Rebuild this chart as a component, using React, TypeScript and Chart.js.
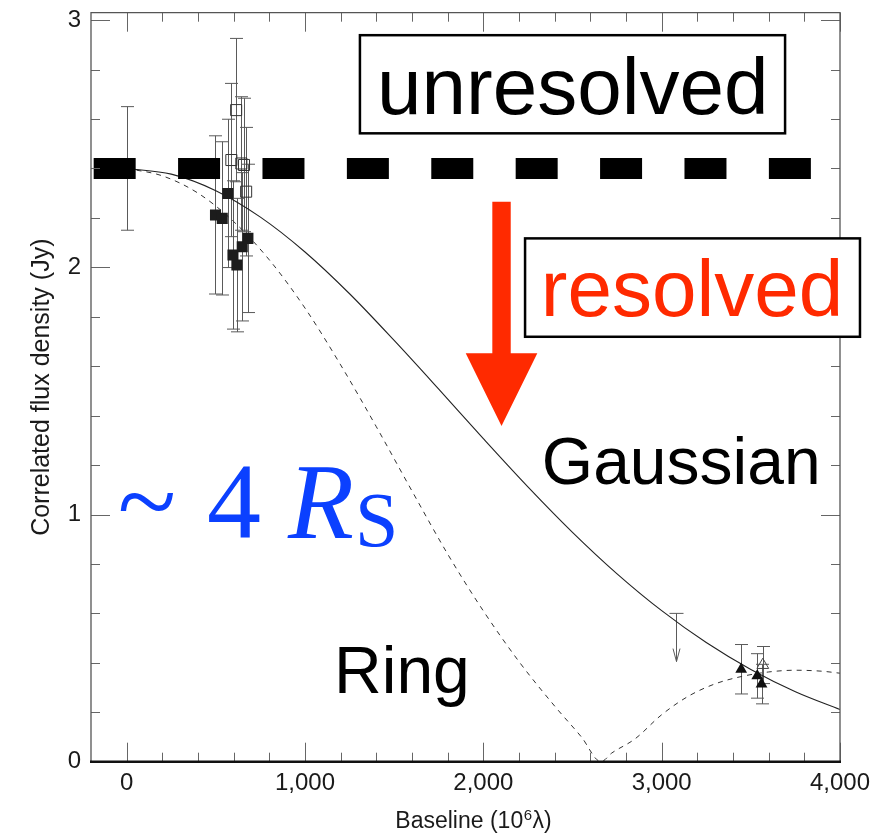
import React, { useEffect, useRef } from 'react';
import { Chart, registerables } from 'chart.js';

Chart.register(...registerables);

// ---------- data ----------
const xTickValues = [0, 1000, 2000, 3000, 4000];
const yTickValues = [0, 1, 2, 3];

const unresolvedX = [-185, 3845];
const unresolvedY = [2.4, 2.4];

const gaussX = [0, 250, 500, 750, 1000, 1250, 1500, 1750, 2000, 2250, 2500, 2750, 3000, 3250, 3500, 3750, 4000];
const gaussY = [2.4, 2.377, 2.31, 2.203, 2.062, 1.893, 1.704, 1.507, 1.307, 1.112, 0.928, 0.76, 0.611, 0.482, 0.373, 0.283, 0.211];

const ringX = [0, 200, 400, 600, 800, 1000, 1200, 1400, 1600, 1800, 2000, 2200, 2400, 2550, 2660, 2720, 2850, 3000, 3150, 3300, 3450, 3600, 3750, 3900, 4000];
const ringY = [2.4, 2.37, 2.3, 2.185, 2.03, 1.835, 1.605, 1.355, 1.095, 0.84, 0.61, 0.405, 0.225, 0.1, 0.0, 0.035, 0.092, 0.19, 0.265, 0.315, 0.345, 0.363, 0.37, 0.366, 0.358];

const filledSqX = [0, 498, 536, 567, 596, 618, 648, 680];
const filledSqY = [2.4, 2.212, 2.198, 2.299, 2.05, 2.009, 2.083, 2.117];
const filledSqErr = [0.25, 0.32, 0.31, 0.3, 0.3, 0.27, 0.3, 0.3];

const openSqX = [614, 587, 643, 658, 670];
const openSqY = [2.636, 2.434, 2.42, 2.414, 2.306];
const openSqErr = [0.29, 0.31, 0.27, 0.27, 0.26];

const filledTriX = [3446, 3536, 3560];
const filledTriY = [0.374, 0.347, 0.314];
const filledTriErr = [0.1, 0.09, 0.08];

const openTriX = [3567];
const openTriY = [0.391];
const openTriErr = [0.075];

const limitX = [3082];
const limitTop = [0.6];
const limitTip = [0.405];

// ---------- text ----------
const xTitleMain = 'Baseline (10';
const xTitleSup = '6';
const xTitleEnd = 'λ)';
const yTitle = 'Correlated flux density (Jy)';

// ---------- annotation anchors (data units) ----------
const ANN = {
  unresolvedBox: [1308, 2.939, 3692, 2.542],
  unresolvedText: [1404, 2.619],
  resolvedBox: [2234, 2.117, 4112, 1.719],
  resolvedText: [2322, 1.803],
  arrow: { x: 2102, top: 2.265, headTop: 1.652, tip: 1.358 },
  gaussianText: [2328, 1.123],
  ringText: [1163, 0.277],
  tilde: [-50, 0.905],
  four: [450, 0.905],
  R: [905, 0.905],
  S: [1280, 0.872],
};

const pts = (xs: number[], ys: number[]) => xs.map((x, i) => ({ x, y: ys[i] }));

const fmt = (v: number) => Number(v).toLocaleString('en-US');

const SANS = '"Liberation Sans", Arial, sans-serif';
const SERIF = '"Liberation Serif", "Times New Roman", serif';

const decorPlugin = {
  id: 'decor',
  beforeDatasetsDraw(chart: any) {
    const ctx = chart.ctx;
    const sx = chart.scales.x;
    const sy = chart.scales.y;
    ctx.save();
    ctx.strokeStyle = '#5a5a5a';
    ctx.lineWidth = 1;
    const cap = 6.5;
    const bars = (xs: number[], ys: number[], es: number[]) => {
      xs.forEach((xv, i) => {
        const px = Math.round(sx.getPixelForValue(xv)) + 0.5;
        const t = sy.getPixelForValue(ys[i] + es[i]);
        const b = sy.getPixelForValue(ys[i] - es[i]);
        ctx.beginPath();
        ctx.moveTo(px, t);
        ctx.lineTo(px, b);
        ctx.moveTo(px - cap, t);
        ctx.lineTo(px + cap, t);
        ctx.moveTo(px - cap, b);
        ctx.lineTo(px + cap, b);
        ctx.stroke();
      });
    };
    bars(filledSqX, filledSqY, filledSqErr);
    bars(openSqX, openSqY, openSqErr);
    bars(filledTriX, filledTriY, filledTriErr);
    bars(openTriX, openTriY, openTriErr);
    // upper limit arrow
    limitX.forEach((xv, i) => {
      const px = Math.round(sx.getPixelForValue(xv)) + 0.5;
      const t = sy.getPixelForValue(limitTop[i]);
      const b = sy.getPixelForValue(limitTip[i]);
      ctx.beginPath();
      ctx.moveTo(px, t);
      ctx.lineTo(px, b);
      ctx.moveTo(px - 7, t);
      ctx.lineTo(px + 7, t);
      ctx.moveTo(px - 3.5, b - 13);
      ctx.lineTo(px, b);
      ctx.lineTo(px + 3.5, b - 13);
      ctx.stroke();
    });
    ctx.restore();
  },
  afterDatasetsDraw(chart: any) {
    const ctx = chart.ctx;
    const sx = chart.scales.x;
    const sy = chart.scales.y;
    const { left, right, top, bottom } = chart.chartArea;
    ctx.save();
    // ticks
    ctx.strokeStyle = '#666';
    ctx.lineWidth = 1;
    ctx.beginPath();
    for (let k = 1; k <= 21; k++) {
      const v = -200 + k * 200;
      const major = v % 1000 === 0;
      const len = major ? 19 : 9;
      const px = Math.round(sx.getPixelForValue(v)) + 0.5;
      ctx.moveTo(px, bottom);
      ctx.lineTo(px, bottom - len);
      ctx.moveTo(px, top);
      ctx.lineTo(px, top + len);
    }
    for (let k = 1; k <= 15; k++) {
      const v = k * 0.2;
      const major = k % 5 === 0;
      const len = major ? 19 : 9;
      const py = Math.round(sy.getPixelForValue(v)) + 0.5;
      ctx.moveTo(left, py);
      ctx.lineTo(left + len, py);
      ctx.moveTo(right, py);
      ctx.lineTo(right - len, py);
    }
    ctx.stroke();
    // frame
    ctx.strokeStyle = '#555';
    ctx.lineWidth = 1.3;
    ctx.beginPath();
    ctx.moveTo(left, bottom);
    ctx.lineTo(left, top);
    ctx.lineTo(right, top);
    ctx.lineTo(right, bottom);
    ctx.stroke();
    ctx.strokeStyle = '#111';
    ctx.lineWidth = 2.5;
    ctx.beginPath();
    ctx.moveTo(left - 1, bottom);
    ctx.lineTo(right + 1, bottom);
    ctx.stroke();
    ctx.restore();
  },
  afterDraw(chart: any) {
    const ctx = chart.ctx;
    const sx = chart.scales.x;
    const sy = chart.scales.y;
    const X = (v: number) => sx.getPixelForValue(v);
    const Y = (v: number) => sy.getPixelForValue(v);
    ctx.save();
    ctx.textAlign = 'left';
    ctx.textBaseline = 'alphabetic';

    // x axis title with superscript
    {
      ctx.fillStyle = '#1a1a1a';
      const mainFont = '23px ' + SANS;
      const supFont = '15px ' + SANS;
      ctx.font = mainFont;
      const w1 = ctx.measureText(xTitleMain).width;
      const w3 = ctx.measureText(xTitleEnd).width;
      ctx.font = supFont;
      const w2 = ctx.measureText(xTitleSup).width + 1;
      const total = w1 + w2 + w3;
      const cxTitle = (chart.chartArea.left + chart.chartArea.right) / 2 + 8;
      const base = chart.height - 6.7;
      let x0 = cxTitle - total / 2;
      ctx.font = mainFont;
      ctx.fillText(xTitleMain, x0, base);
      x0 += w1;
      ctx.font = supFont;
      ctx.fillText(xTitleSup, x0 + 0.5, base - 8.5);
      x0 += w2;
      ctx.font = mainFont;
      ctx.fillText(xTitleEnd, x0, base);
    }

    // unresolved box
    const ub = ANN.unresolvedBox;
    ctx.fillStyle = '#fff';
    ctx.fillRect(X(ub[0]), Y(ub[1]), X(ub[2]) - X(ub[0]), Y(ub[3]) - Y(ub[1]));
    ctx.strokeStyle = '#000';
    ctx.lineWidth = 2.5;
    ctx.strokeRect(X(ub[0]), Y(ub[1]), X(ub[2]) - X(ub[0]), Y(ub[3]) - Y(ub[1]));
    ctx.fillStyle = '#000';
    ctx.font = '80px ' + SANS;
    ctx.fillText('unresolved', X(ANN.unresolvedText[0]), Y(ANN.unresolvedText[1]));

    // resolved box
    const rb = ANN.resolvedBox;
    ctx.fillStyle = '#fff';
    ctx.fillRect(X(rb[0]), Y(rb[1]), X(rb[2]) - X(rb[0]), Y(rb[3]) - Y(rb[1]));
    ctx.strokeStyle = '#000';
    ctx.strokeRect(X(rb[0]), Y(rb[1]), X(rb[2]) - X(rb[0]), Y(rb[3]) - Y(rb[1]));
    ctx.fillStyle = '#ff2a00';
    ctx.fillText('resolved', X(ANN.resolvedText[0]), Y(ANN.resolvedText[1]));

    // red arrow
    const a = ANN.arrow;
    const cx = X(a.x);
    ctx.fillStyle = '#ff2a00';
    ctx.beginPath();
    ctx.moveTo(cx - 9.2, Y(a.top));
    ctx.lineTo(cx + 9.2, Y(a.top));
    ctx.lineTo(cx + 9.2, Y(a.headTop));
    ctx.lineTo(cx + 35.8, Y(a.headTop));
    ctx.lineTo(cx, Y(a.tip));
    ctx.lineTo(cx - 35.8, Y(a.headTop));
    ctx.lineTo(cx - 9.2, Y(a.headTop));
    ctx.closePath();
    ctx.fill();

    // Gaussian / Ring labels
    ctx.fillStyle = '#000';
    ctx.font = '66px ' + SANS;
    ctx.fillText('Gaussian', X(ANN.gaussianText[0]), Y(ANN.gaussianText[1]));
    ctx.fillText('Ring', X(ANN.ringText[0]), Y(ANN.ringText[1]));

    // ~ 4 Rs
    ctx.fillStyle = '#0b40ff';
    ctx.font = '108px ' + SERIF;
    ctx.fillText('~', X(ANN.tilde[0]), Y(ANN.tilde[1]));
    ctx.fillText('4', X(ANN.four[0]), Y(ANN.four[1]));
    ctx.font = 'italic 108px ' + SERIF;
    ctx.fillText('R', X(ANN.R[0]), Y(ANN.R[1]));
    ctx.font = '78px ' + SERIF;
    ctx.fillText('S', X(ANN.S[0]), Y(ANN.S[1]));
    ctx.restore();
  },
};

export default function App() {
  const ref = useRef<HTMLCanvasElement>(null);

  useEffect(() => {
    if (!ref.current) return;
    const tickFont = { family: SANS, size: 24 };
    const chart = new Chart(ref.current, {
      type: 'scatter',
      data: {
        datasets: [
          {
            label: 'unresolved',
            data: pts(unresolvedX, unresolvedY),
            showLine: true,
            borderColor: '#000',
            borderWidth: 21,
            borderDash: [42, 42.4],
            borderCapStyle: 'butt',
            pointRadius: 0,
          },
          {
            label: 'filled squares',
            data: pts(filledSqX, filledSqY),
            pointStyle: 'rect',
            pointRadius: 7.8,
            backgroundColor: '#1c1c1c',
            borderColor: '#1c1c1c',
            borderWidth: 0,
          },
          {
            label: 'open squares',
            data: pts(openSqX, openSqY),
            pointStyle: 'rect',
            pointRadius: 7.8,
            backgroundColor: 'rgba(255,255,255,0)',
            borderColor: '#333',
            borderWidth: 1,
          },
          {
            label: 'filled triangles',
            data: pts(filledTriX, filledTriY),
            pointStyle: 'triangle',
            pointRadius: 6.8,
            backgroundColor: '#111',
            borderColor: '#111',
            borderWidth: 0,
          },
          {
            label: 'open triangle',
            data: pts(openTriX, openTriY),
            pointStyle: 'triangle',
            pointRadius: 6.8,
            backgroundColor: 'rgba(255,255,255,0)',
            borderColor: '#444',
            borderWidth: 1,
          },
          {
            label: 'Gaussian',
            data: pts(gaussX, gaussY),
            showLine: true,
            borderColor: '#222',
            borderWidth: 1.1,
            pointRadius: 0,
            cubicInterpolationMode: 'monotone',
          },
          {
            label: 'Ring',
            data: pts(ringX, ringY),
            showLine: true,
            borderColor: '#333',
            borderWidth: 1,
            borderDash: [5, 5],
            pointRadius: 0,
            cubicInterpolationMode: 'monotone',
          },
        ],
      } as any,
      options: {
        responsive: false,
        devicePixelRatio: 1,
        animation: false,
        layout: { padding: { left: 0, right: 42, top: 12.7, bottom: 0 } },
        plugins: { legend: { display: false }, tooltip: { enabled: false } },
        scales: {
          x: {
            type: 'linear',
            min: -200,
            max: 4000,
            afterBuildTicks: (s: any) => {
              s.ticks = xTickValues.map((v) => ({ value: v }));
            },
            afterFit: (s: any) => {
              s.height = 73.3;
              s.paddingLeft = 0;
              s.paddingRight = 0;
            },
            grid: { display: false, drawTicks: false },
            border: { display: false },
            ticks: {
              padding: 7,
              font: tickFont,
              color: '#1a1a1a',
              maxRotation: 0,
              autoSkip: false,
              callback: (v: any) => fmt(v),
            },
            title: { display: false },
          },
          y: {
            type: 'linear',
            min: 0,
            max: 3.03,
            afterBuildTicks: (s: any) => {
              s.ticks = yTickValues.map((v) => ({ value: v }));
            },
            afterFit: (s: any) => {
              s.width = 91;
              s.paddingTop = 0;
              s.paddingBottom = 0;
            },
            grid: { display: false, drawTicks: false },
            border: { display: false },
            ticks: {
              padding: 10,
              font: tickFont,
              color: '#1a1a1a',
              autoSkip: false,
              callback: (v: any) => String(v),
            },
            title: {
              display: true,
              text: yTitle,
              font: { family: SANS, size: 25 },
              color: '#1a1a1a',
              padding: { top: 27, bottom: 0 },
            },
          },
        },
      } as any,
      plugins: [decorPlugin],
    });
    return () => chart.destroy();
  }, []);

  return (
    <div style={{ position: 'absolute', left: 0, top: 0, width: 882, height: 835, background: '#fff' }}>
      <canvas ref={ref} width={882} height={835} style={{ display: 'block', width: 882, height: 835 }} />
    </div>
  );
}
